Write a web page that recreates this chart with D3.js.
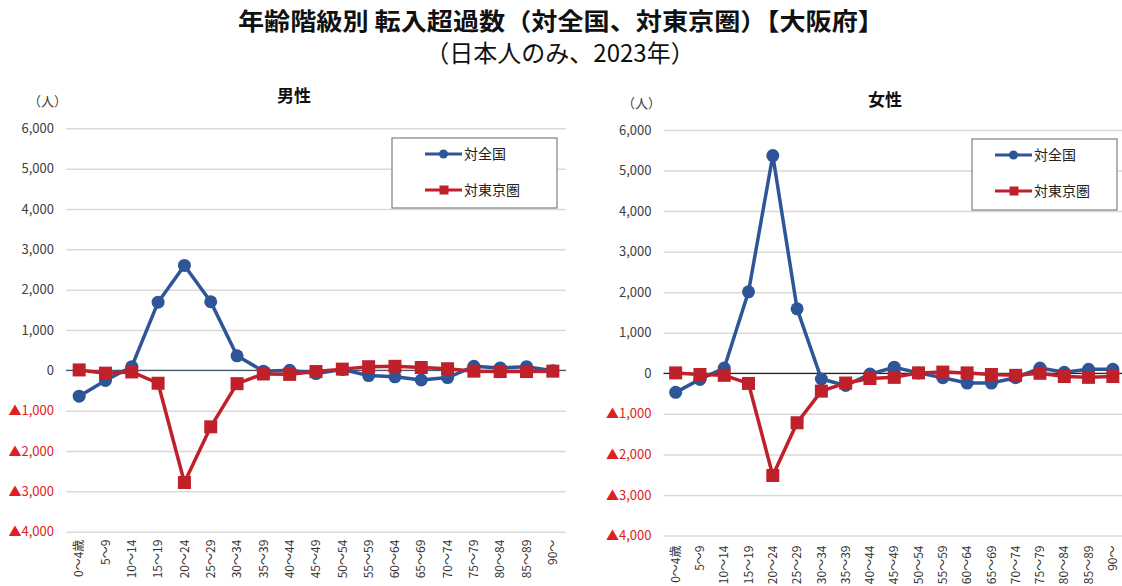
<!DOCTYPE html>
<html>
<head>
<meta charset="utf-8">
<script src="https://cdn.jsdelivr.net/npm/d3@7"></script>
<style>
  body { margin: 0; background: #fff; }
  svg text { font-family: "Noto Sans CJK JP", "Noto Sans", sans-serif; }
</style>
</head>
<body>
<div id="chart"></div>
<script>
const ageGroups = ["0～4歳", "5～9", "10～14", "15～19", "20～24", "25～29", "30～34", "35～39", "40～44",
  "45～49", "50～54", "55～59", "60～64", "65～69", "70～74", "75～79", "80～84", "85～89", "90～"];

const yTicks = [6000, 5000, 4000, 3000, 2000, 1000, 0, -1000, -2000, -3000, -4000];

const seriesNames = ["対全国", "対東京圏"];

// 男性
const maleNational = [-640, -250, 90, 1690, 2600, 1700, 360, -20, 0, -80, 20, -130, -160, -240, -180, 100, 60, 90, -10];
const maleTokyo = [10, -70, -40, -320, -2780, -1400, -330, -90, -100, -30, 30, 90, 100, 70, 40, -20, -30, -30, -20];

// 女性
const femaleNational = [-470, -150, 130, 2010, 5370, 1590, -140, -300, -20, 150, 10, -110, -240, -240, -110, 130, 25, 100, 100];
const femaleTokyo = [10, -30, -50, -250, -2520, -1220, -440, -240, -130, -100, 10, 30, 10, -30, -50, 0, -80, -100, -80];

const blue = "#2e5597";
const red = "#c0202a";

const svg = d3.select("#chart").append("svg")
  .attr("width", 1122)
  .attr("height", 586);

// main title
svg.append("text")
  .attr("x", 561).attr("y", 30)
  .attr("text-anchor", "middle")
  .attr("font-size", 24).attr("font-weight", 700)
  .attr("fill", "#111")
  .attr("textLength", 646)
  .attr("lengthAdjust", "spacingAndGlyphs")
  .text("年齢階級別 転入超過数（対全国、対東京圏）【大阪府】");

svg.append("text")
  .attr("x", 560).attr("y", 62)
  .attr("text-anchor", "middle")
  .attr("font-size", 24)
  .attr("fill", "#111")
  .text("（日本人のみ、2023年）");

function formatTick(v) {
  if (v < 0) return "▲" + d3.format(",")(-v);
  return d3.format(",")(v);
}

function drawPanel(p) {
  const g = svg.append("g");

  const x = d3.scaleBand()
    .domain(ageGroups)
    .range([p.left, p.right])
    .padding(0);

  const y = d3.scaleLinear()
    .domain([-4000, 6000])
    .range([p.bottom, p.top]);

  // grid
  const grid = g.append("g")
    .attr("transform", `translate(${p.left},0)`)
    .call(d3.axisLeft(y).tickValues(yTicks).tickSize(-(p.gridEnd - p.left)).tickFormat(""));
  grid.select(".domain").remove();
  grid.selectAll("line")
    .attr("stroke", "#d9d9d9")
    .attr("stroke-width", 1.5);

  // tick labels
  g.selectAll(".ylab")
    .data(yTicks)
    .enter()
    .append("text")
    .attr("x", p.left - 12)
    .attr("y", (d) => y(d))
    .attr("dy", "0.35em")
    .attr("text-anchor", "end")
    .attr("font-size", 13)
    .attr("fill", (d) => d < 0 ? "#e02020" : "#404040")
    .text(formatTick);

  // zero line
  g.append("line")
    .attr("x1", p.left).attr("x2", p.gridEnd)
    .attr("y1", y(0)).attr("y2", y(0))
    .attr("stroke", p.zeroColor)
    .attr("stroke-width", 1.2);

  // x labels
  const xa = g.append("g")
    .attr("transform", `translate(0,${p.bottom})`)
    .call(d3.axisBottom(x).tickSize(0));
  xa.select(".domain").remove();
  xa.selectAll("text")
    .attr("font-size", 12)
    .attr("fill", "#333")
    .attr("text-anchor", "end")
    .attr("dy", "0.35em")
    .attr("transform", `translate(0,${p.labelGap}) rotate(-90)`)
    .attr("x", 0)
    .attr("y", 0);

  const line = d3.line()
    .x((d, i) => x(ageGroups[i]) + x.bandwidth() / 2)
    .y((d) => y(d));

  g.append("path")
    .datum(p.national)
    .attr("fill", "none")
    .attr("stroke", blue)
    .attr("stroke-width", 3.5)
    .attr("stroke-linejoin", "round")
    .attr("d", line);

  g.append("path")
    .datum(p.tokyo)
    .attr("fill", "none")
    .attr("stroke", red)
    .attr("stroke-width", 3.5)
    .attr("stroke-linejoin", "round")
    .attr("d", line);

  g.selectAll(".dot")
    .data(p.national)
    .enter()
    .append("circle")
    .attr("cx", (d, i) => x(ageGroups[i]) + x.bandwidth() / 2)
    .attr("cy", (d) => y(d))
    .attr("r", 6.5)
    .attr("fill", blue);

  const s = 13;
  g.selectAll(".sq")
    .data(p.tokyo)
    .enter()
    .append("rect")
    .attr("x", (d, i) => x(ageGroups[i]) + x.bandwidth() / 2 - s / 2)
    .attr("y", (d) => y(d) - s / 2)
    .attr("width", s)
    .attr("height", s)
    .attr("fill", red);

  // unit and title
  g.append("text")
    .attr("x", p.unitX).attr("y", p.top - 22)
    .attr("font-size", 13)
    .attr("fill", "#404040")
    .text("（人）");

  g.append("text")
    .attr("x", p.titleX).attr("y", p.titleY)
    .attr("text-anchor", "middle")
    .attr("font-size", 17)
    .attr("font-weight", 700)
    .attr("fill", "#111")
    .text(p.title);

  // legend
  const lg = g.append("g").attr("transform", `translate(${p.legend.x},${p.legend.y})`);
  lg.append("rect")
    .attr("width", p.legend.w).attr("height", p.legend.h)
    .attr("fill", "#fff")
    .attr("stroke", "#7f7f7f")
    .attr("stroke-width", 1.2);

  seriesNames.forEach(function (name, i) {
    const yy = i === 0 ? 16 : 52;
    const color = i === 0 ? blue : red;
    lg.append("line")
      .attr("x1", p.legend.lineX).attr("x2", p.legend.lineX + 37)
      .attr("y1", yy).attr("y2", yy)
      .attr("stroke", color).attr("stroke-width", 3);
    if (i === 0) {
      lg.append("circle")
        .attr("cx", p.legend.lineX + 18.5).attr("cy", yy).attr("r", 4.5)
        .attr("fill", color);
    } else {
      lg.append("rect")
        .attr("x", p.legend.lineX + 14.5).attr("y", yy - 4.5)
        .attr("width", 9).attr("height", 9)
        .attr("fill", color);
    }
    lg.append("text")
      .attr("x", p.legend.lineX + 39).attr("y", yy)
      .attr("dy", "0.35em")
      .attr("font-size", 14)
      .attr("fill", "#222")
      .text(name);
  });
}

drawPanel({
  title: "男性",
  titleX: 294, titleY: 102,
  unitX: 28,
  left: 66, right: 566, gridEnd: 566,
  top: 128.3, bottom: 531.7,
  labelGap: 8,
  zeroColor: "#44546a",
  national: maleNational,
  tokyo: maleTokyo,
  legend: { x: 392, y: 138, w: 165, h: 70, lineX: 33 }
});

drawPanel({
  title: "女性",
  titleX: 885, titleY: 106,
  unitX: 622,
  left: 663.5, right: 1125, gridEnd: 1122,
  top: 130, bottom: 535.5,
  labelGap: 10,
  zeroColor: "#222",
  national: femaleNational,
  tokyo: femaleTokyo,
  legend: { x: 972, y: 139, w: 145, h: 71, lineX: 23 }
});
</script>
</body>
</html>
